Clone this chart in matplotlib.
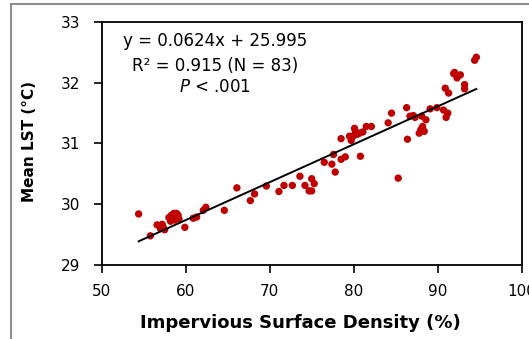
import matplotlib
matplotlib.use("Agg")
import matplotlib.pyplot as plt
from matplotlib.lines import Line2D
import numpy as np

# Data
isd = [54.4, 55.8, 56.6, 57.0, 57.3, 57.5, 58.0, 58.3, 58.6, 58.9,
       59.1, 58.2, 58.7, 59.2, 59.9, 60.9, 61.3, 62.1, 62.4, 64.6,
       66.1, 67.7, 68.2, 69.6, 71.1, 71.7, 72.7, 73.6, 74.2, 74.7,
       75.0, 75.0, 75.3, 76.5, 77.4, 77.6, 77.8, 78.5, 79.0, 78.5,
       79.7, 79.8, 80.0, 80.2, 80.4, 80.7, 81.1, 80.1, 80.8, 81.5,
       82.1, 84.1, 84.5, 85.3, 86.4, 86.3, 86.7, 87.1, 87.3, 87.8,
       88.0, 88.2, 88.1, 88.6, 89.1, 89.9, 90.7, 91.2, 91.0, 90.9,
       91.3, 91.9, 92.3, 92.7, 92.0, 93.2, 93.2, 94.4, 94.6, 88.4,
       58.5, 57.2, 79.5]
lst = [29.84, 29.48, 29.66, 29.60, 29.63, 29.58, 29.78, 29.82, 29.85, 29.85,
       29.82, 29.72, 29.74, 29.76, 29.62, 29.77, 29.79, 29.90, 29.95, 29.90,
       30.27, 30.06, 30.17, 30.30, 30.21, 30.31, 30.31, 30.46, 30.31, 30.22,
       30.22, 30.42, 30.34, 30.69, 30.66, 30.82, 30.53, 30.74, 30.78, 31.08,
       31.05, 31.10, 31.13, 31.20, 31.15, 31.17, 31.19, 31.25, 30.79, 31.28,
       31.28, 31.34, 31.50, 30.43, 31.07, 31.59, 31.45, 31.46, 31.43, 31.17,
       31.23, 31.28, 31.45, 31.39, 31.57, 31.59, 31.55, 31.50, 31.43, 31.91,
       31.83, 32.15, 32.08, 32.13, 32.17, 31.97, 31.90, 32.37, 32.42, 31.20,
       29.80, 29.67, 31.12]
slope = 0.0624
intercept = 25.995
x_ticks = [50, 60, 70, 80, 90, 100]
y_ticks = [29, 30, 31, 32, 33]

plt.rcParams['font.family'] = ['DejaVu Sans']
plt.rcParams['mathtext.fontset'] = 'dejavusans'

fig = plt.figure(figsize=(5.29, 3.39), dpi=100)
ax = fig.add_axes([0.1922, 0.2183, 0.794, 0.7168])

ax.scatter(isd, lst, s=28, color='#C00000', edgecolors='none', zorder=3)
xl = np.array([min(isd), max(isd)])
ax.plot(xl, slope * xl + intercept, color='black', lw=1.4, zorder=4)

ax.set_xlim(50, 100)
ax.set_ylim(29, 33)
ax.set_xticks(x_ticks)
ax.set_yticks(y_ticks)
ax.set_xticklabels([str(v) for v in x_ticks], fontsize=11)
ax.set_yticklabels([str(v) for v in y_ticks], fontsize=11)
ax.tick_params(direction='out', length=5.5, width=1.2, color='black')
ax.tick_params(axis='x', pad=8)
ax.tick_params(axis='y', pad=10)
for s in ax.spines.values():
    s.set_linewidth(1.3)

ax.set_xlabel('Impervious Surface Density (%)', fontsize=13, fontweight='bold')
ax.xaxis.set_label_coords(0.472, -0.239)
ax.xaxis.label.set_va('center')
ax.set_ylabel('Mean LST (°C)', fontsize=11, fontweight='bold')
ax.yaxis.set_label_coords(-0.173, 0.51)
ax.yaxis.label.set_va('center')

ax.text(0.27, 0.922, 'y = 0.0624x + 25.995', transform=ax.transAxes,
        ha='center', va='center', fontsize=12)
ax.text(0.27, 0.819, 'R² = 0.915 (N = 83)', transform=ax.transAxes,
        ha='center', va='center', fontsize=12)
ax.text(0.27, 0.733, '$\\it{P}$ < .001', transform=ax.transAxes,
        ha='center', va='center', fontsize=12)

# outer frame (partially visible)
fig.add_artist(Line2D([11/529, 1.0], [1-4/339, 1-4/339], transform=fig.transFigure,
                      color='#8c8c8c', lw=1.5))
fig.add_artist(Line2D([11/529, 11/529], [0.0, 1-4/339], transform=fig.transFigure,
                      color='#8c8c8c', lw=1.5))

fig.savefig('out.png', dpi=100)
